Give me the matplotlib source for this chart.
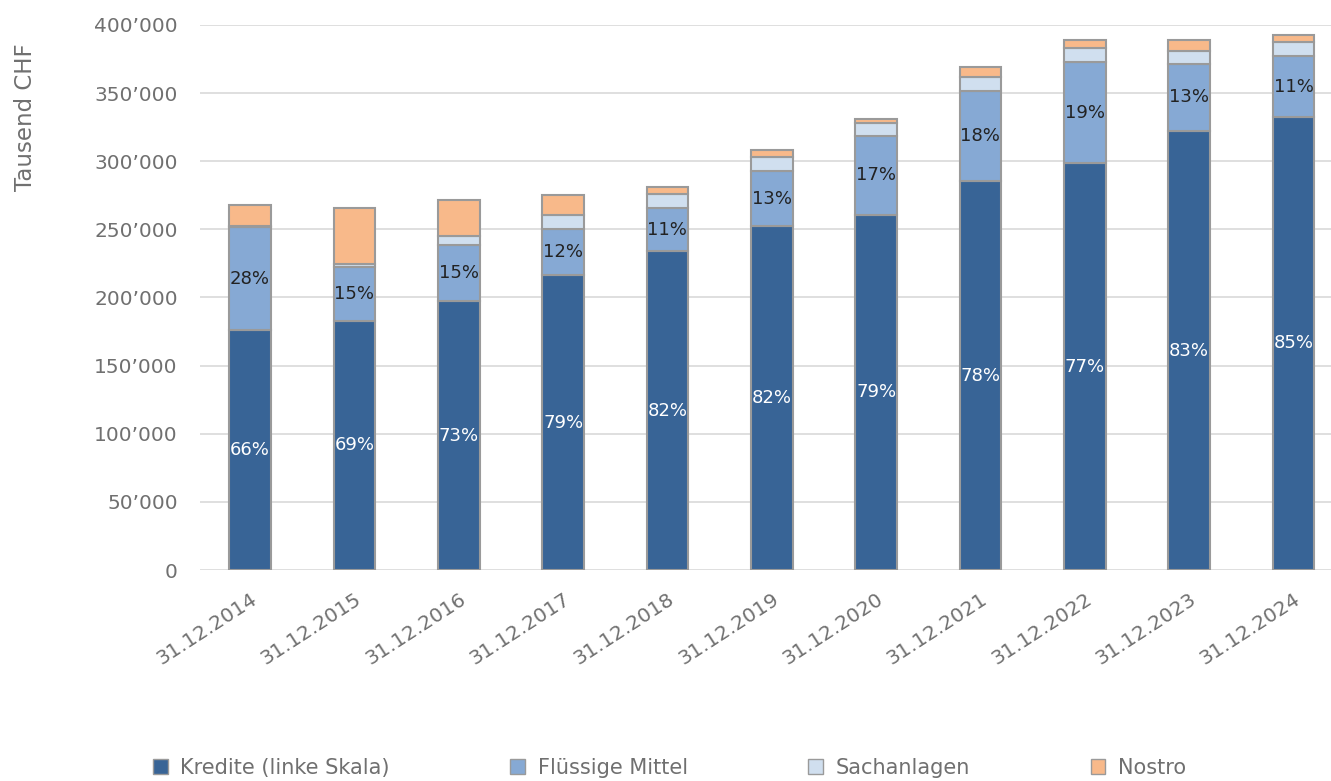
import matplotlib.pyplot as plt
import numpy as np
from matplotlib.ticker import FuncFormatter
from matplotlib.patches import Patch

plt.rcParams['font.family'] = ['DejaVu Sans']

dates = ["31.12.2014", "31.12.2015", "31.12.2016", "31.12.2017", "31.12.2018", "31.12.2019",
         "31.12.2020", "31.12.2021", "31.12.2022", "31.12.2023", "31.12.2024"]
# Tausend CHF
kredite = [176100, 182800, 197400, 216500, 234100, 252500, 260600, 285500, 298700, 322200, 332500]
fluessig = [75600, 39600, 41100, 33800, 31600, 40300, 57900, 66100, 74100, 49200, 44700]
sachanlagen = [1000, 2200, 6600, 10300, 10300, 10300, 9600, 10200, 10300, 9600, 10300]
nostro = [15400, 41100, 26500, 14600, 5100, 5200, 2900, 7400, 5900, 8000, 5200]
kredite_pct = ["66%", "69%", "73%", "79%", "82%", "82%", "79%", "78%", "77%", "83%", "85%"]
fluessig_pct = ["28%", "15%", "15%", "12%", "11%", "13%", "17%", "18%", "19%", "13%", "11%"]

names = ["Kredite (linke Skala)", "Flüssige Mittel", "Sachanlagen", "Nostro"]
colors = ["#386496", "#86a9d4", "#d0dfef", "#f8b98a"]
edge = "#9a9a9a"
grey = "#707070"

fig = plt.figure(figsize=(13.31, 7.81), dpi=100)
ax = fig.add_axes([200 / 1331, 211 / 781, 1131 / 1331, 545 / 781])

x = np.arange(len(dates))
w = 0.40
series = [kredite, fluessig, sachanlagen, nostro]
bottom = np.zeros(len(dates))
for vals, c in zip(series, colors):
    ax.bar(x, vals, w, bottom=bottom, color=c, edgecolor=edge, linewidth=1.5, zorder=3)
    bottom += np.array(vals)

# Prozent-Beschriftungen
for i in range(len(dates)):
    ax.text(x[i], kredite[i] / 2, kredite_pct[i], ha="center", va="center",
            color="white", fontsize=13, zorder=4)
    ax.text(x[i], kredite[i] + fluessig[i] / 2, fluessig_pct[i], ha="center", va="center",
            color="#222222", fontsize=13, zorder=4)

ax.set_ylim(0, 400000)
ax.set_xlim(-0.48, 10.36)
ax.set_yticks(np.arange(0, 400001, 50000))
ax.yaxis.set_major_formatter(FuncFormatter(lambda v, p: f"{v:,.0f}".replace(",", "\u2019")))
ax.grid(axis="y", color="#d9d9d9", linewidth=1.2, zorder=0)
for s in ax.spines.values():
    s.set_visible(False)
ax.tick_params(length=0, labelsize=14.5, colors=grey, pad=16)
ax.tick_params(axis="x", pad=14)
ax.set_xticks(x)
ax.set_xticklabels(dates, rotation=33, ha="right", rotation_mode="anchor")
ax.set_ylabel("Tausend CHF", fontsize=16.5, color=grey)
ax.yaxis.set_label_coords(-0.144, 0.83)

handles = [Patch(facecolor=c, edgecolor=edge, linewidth=1) for c in colors]
fig.legend(handles, names, loc="lower center", bbox_to_anchor=(0.503, -0.02), ncol=4,
           frameon=False, fontsize=15, handlelength=0.7, handleheight=0.7,
           columnspacing=5.8, handletextpad=0.6, labelcolor=grey)

plt.savefig("out.png", dpi=100)
